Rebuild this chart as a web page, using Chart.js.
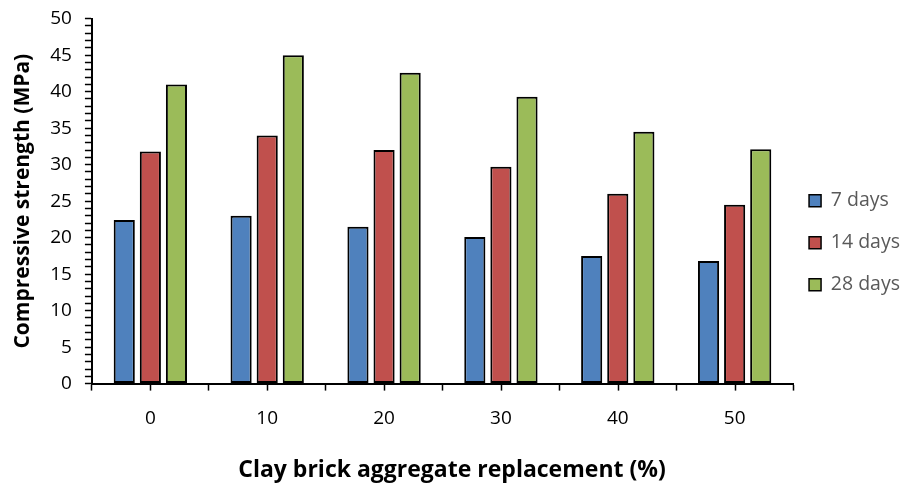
<!DOCTYPE html>
<html>
<head>
<meta charset="utf-8">
<script src="https://cdn.jsdelivr.net/npm/chart.js@4.4.1/dist/chart.umd.min.js"></script>
<style>
  html, body { margin: 0; padding: 0; background: #fff; }
  #wrap { width: 906px; height: 489px; }
</style>
</head>
<body>
<div id="wrap"><canvas id="c"></canvas></div>
<script>
const categories = ['0', '10', '20', '30', '40', '50'];
const days7 = [22.4, 23.0, 21.5, 20.1, 17.5, 16.8];
const days14 = [31.8, 34.0, 32.0, 29.7, 26.0, 24.5];
const days28 = [41.0, 45.0, 42.6, 39.3, 34.5, 32.1];

const FONT = '"Open Sans", "Noto Sans", sans-serif';

// small tick marks under each category label (Excel draws both)
const centerTicks = {
  id: 'centerTicks',
  afterDraw(chart) {
    const x = chart.scales.x;
    const ctx = chart.ctx;
    ctx.save();
    ctx.strokeStyle = '#000';
    ctx.lineWidth = 1.5;
    x.ticks.forEach((t, i) => {
      const px = Math.round(x.getPixelForTick(i)) + 0.5;
      ctx.beginPath();
      ctx.moveTo(px, x.top);
      ctx.lineTo(px, x.top + 7);
      ctx.stroke();
    });
    ctx.restore();
  }
};

function bar(label, data, color) {
  return {
    label: label,
    data: data,
    backgroundColor: color,
    borderColor: '#000',
    borderWidth: 2,
    borderSkipped: false,
    categoryPercentage: 0.67,
    barPercentage: 0.81,
  };
}

new Chart(document.getElementById('c'), {
  type: 'bar',
  data: {
    labels: categories,
    datasets: [
      bar('7 days', days7, '#4F81BD'),
      bar('14 days', days14, '#C0504D'),
      bar('28 days', days28, '#9BBB59'),
    ],
  },
  options: {
    responsive: true,
    maintainAspectRatio: false,
    animation: false,
    // left/right kept so the bottom caption lands where the original has it
    layout: { padding: { top: 0, right: -4, bottom: 5, left: -6 } },
    plugins: {
      // x-axis caption, centred on the whole canvas like the original
      title: {
        display: true,
        position: 'bottom',
        text: 'Clay brick aggregate replacement (%)',
        color: '#000',
        font: { family: FONT, size: 23, weight: 'bold' },
        padding: { top: 9, bottom: 0 },
      },
      legend: {
        position: 'right',
        // empty title only nudges the items down a little
        title: { display: true, text: '', padding: 0, font: { size: 8, lineHeight: 1 } },
        labels: {
          color: '#595959',
          font: { family: FONT, size: 19.5, lineHeight: 1.33 },
          boxWidth: 12,
          boxHeight: 12,
          padding: 16,
          generateLabels: (chart) => chart.data.datasets.map((ds, i) => ({
            text: [ds.label],
            fillStyle: ds.backgroundColor,
            strokeStyle: '#000',
            lineWidth: 1.5,
            datasetIndex: i,
            fontColor: '#595959',
          })),
        },
      },
      tooltip: { enabled: false },
    },
    scales: {
      x: {
        offset: true,
        grid: {
          offset: true,
          drawOnChartArea: false,
          tickLength: 7,
          tickColor: '#000',
          tickWidth: 1.5,
        },
        border: { color: '#000', width: 2 },
        ticks: { color: '#000', font: { family: FONT, size: 19 }, padding: 17 },
      },
      y: {
        min: 0,
        max: 50,
        grid: {
          drawOnChartArea: false,
          tickLength: 7,
          tickColor: '#000',
          tickWidth: 1.5,
        },
        border: { color: '#000', width: 2 },
        ticks: {
          stepSize: 1,
          autoSkip: false,
          color: '#000',
          font: { family: FONT, size: 19, lineHeight: 0.6 },
          padding: 13,
          callback: (v) => (v % 5 === 0 ? String(v) : ''),
        },
        title: {
          display: true,
          text: 'Compressive strength (MPa)',
          color: '#000',
          font: { family: FONT, size: 21, weight: 'bold' },
          padding: { top: 16, bottom: 2 },
        },
      },
    },
  },
  plugins: [centerTicks],
});
</script>
</body>
</html>
